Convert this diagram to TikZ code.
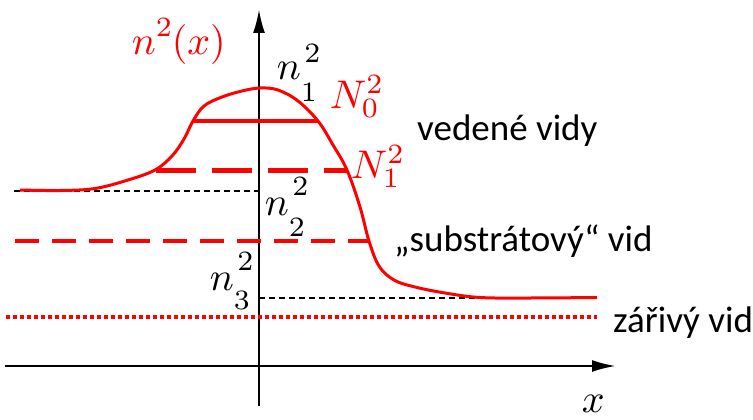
\documentclass[tikz,border=0pt]{standalone}
\usepackage{fontspec}
\newfontfamily\lbl{Carlito}
\usetikzlibrary{arrows.meta}
% base with raised superscript and lowered subscript
\newcommand\lbx[5]{#1\rlap{\kern0.9pt\raisebox{#4}{$\scriptstyle #2$}}\raisebox{-#5}{$\scriptstyle #3$}}
\begin{document}
\begin{tikzpicture}[x=1pt,y=-1pt,
  axis/.style={line width=2.5pt,-{Latex[length=24pt,width=12pt]}},
  curve/.style={red,line width=3pt},
  mathlbl/.style={scale=4.0,inner sep=0pt,anchor=base west},
  txt/.style={font=\lbl\fontsize{37}{40}\selectfont,inner sep=0pt,anchor=base west},
  blackdash/.style={line width=1.4pt,dash pattern=on 6pt off 4pt},
]
\useasboundingbox (0,0) rectangle (753,420);
% axes
\coordinate (xs) at (5,366);
\coordinate (xe) at (616,366);
\coordinate (ys) at (259,406);
\coordinate (ye) at (259,9);
\draw[axis] (xs) -- (xe);
\draw[axis] (ys) -- (ye);
% black dashed levels
\coordinate (b1s) at (14,191);
\coordinate (b1e) at (259,191);
\draw[blackdash] (b1s) -- (b1e);
\coordinate (b2s) at (259,298);
\coordinate (b2e) at (597,298);
\draw[blackdash] (b2s) -- (b2e);
% red dotted radiation
\coordinate (rds) at (6,317);
\coordinate (rde) at (597,317);
\draw[red,line width=3.5pt,dash pattern=on 3.5pt off 3.5pt] (rds) -- (rde);
% substrate dashed
\coordinate (sds) at (15,241);
\coordinate (sde) at (369,241);
\draw[red,line width=3.8pt,dash pattern=on 24pt off 13pt] (sds) -- (sde);
% guided modes
\coordinate (n1s) at (156,170);
\coordinate (n1e) at (348,170);
\draw[red,line width=5pt,dash pattern=on 40pt off 16pt] (n1s) -- (n1e);
\coordinate (n0s) at (193,121);
\coordinate (n0e) at (318,121);
\draw[red,line width=4.5pt] (n0s) -- (n0e);
% profile curve
\draw[curve] plot[smooth,tension=0.6] coordinates {
 (20,190) (60,190.5) (95,188.5) (128,180) (155,170) (172,156) (184,139) (193,121)
 (204,106) (222,97) (242,91) (260,88) (278,90) (298,101) (318,121)
 (333,145) (347,170) (360,207) (369,241) (379,266) (394,280) (415,287) (445,293)
 (480,297.5) (530,298) (597,297.5)};
% labels
\node[mathlbl,red] (nx) at (131,55) {$n\raisebox{4.6pt}{$\scriptstyle 2$}(x)$};
\node[mathlbl] (n1) at (276,80) {$\lbx{n}{2}{1}{4.4pt}{5.3pt}$};
\node[mathlbl,red] (N0) at (329,108) {$N_0^2$};
\node[mathlbl,red] (N1) at (350,178) {$N_1^2$};
\node[mathlbl] (n2) at (264,215) {$\lbx{n}{2}{2}{4.8pt}{5.3pt}$};
\node[mathlbl] (n3) at (209,290) {$\lbx{n}{2}{3}{4.8pt}{5.0pt}$};
\node[mathlbl] (xl) at (581,412) {$x$};
\node[txt] (ved) at (417,140) {vedené vidy};
\node[txt] (sub) at (394,251) {„substrátový“ vid};
\node[txt] (zar) at (613,332) {zářivý vid};
\end{tikzpicture}
\end{document}
